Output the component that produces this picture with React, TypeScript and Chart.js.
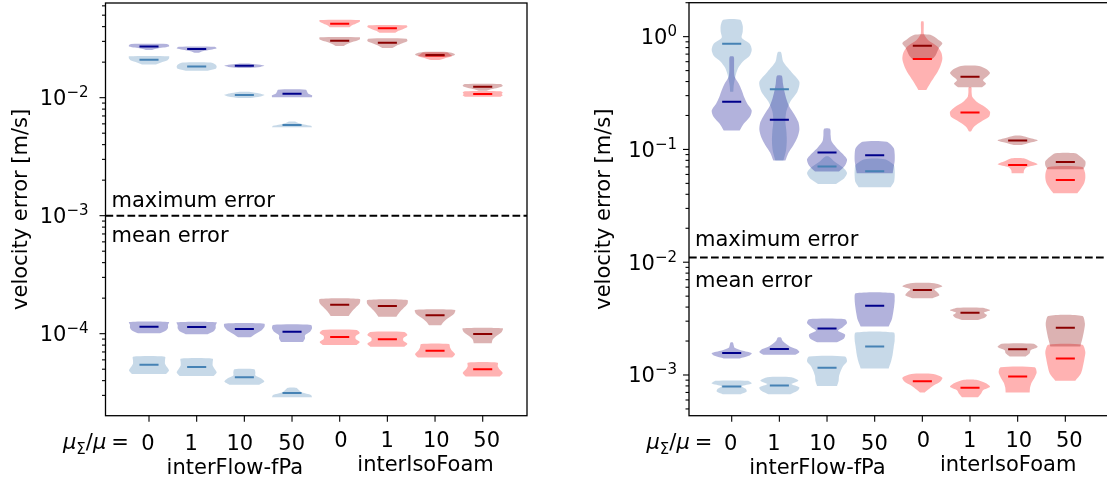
import React, { useEffect, useRef } from 'react';
import { Chart, registerables } from 'chart.js';

Chart.register(...registerables);

// Each violin: [lowest value, highest value, median, relative widths from lowest to highest]
type Violin = [number, number, number, number[]];

const positions = [1, 2, 3, 4, 5, 6, 7, 8];
const muRatioLabels = ['0', '1', '10', '50', '0', '1', '10', '50'];
const solverLabels = ['interFlow-fPa', 'interIsoFoam'];
const solverLabelPositions = [2.8, 6.8];
const yAxisTitle = 'velocity error [m/s]';
const sectionLabels = ['maximum error', 'mean error'];

// ---------- LEFT PANEL ----------
const leftMaxFpaDark: Violin[] = [
  [0.02535, 0.02851, 0.0272, [0.15, 0.35, 0.7, 1.0, 1.0, 0.9]],
  [0.02404, 0.02704, 0.02588, [0.1, 0.3, 0.7, 1.0, 0.9]],
  [0.01786, 0.01941, 0.01867, [0.3, 0.8, 1.0, 0.8, 0.3]],
  [0.01008, 0.01169, 0.01081, [1.0, 1.0, 0.8, 0.75, 0.7]],
];
const leftMaxFpaLight: Violin[] = [
  [0.0191, 0.0224, 0.021, [0.35, 0.6, 0.9, 1.0, 1.0]],
  [0.01694, 0.01982, 0.01833, [0.55, 0.95, 1.0, 0.95, 0.7]],
  [0.00994, 0.01117, 0.01054, [0.3, 0.8, 1.0, 0.75, 0.3]],
  [0.00561, 0.00627, 0.00588, [1.0, 0.95, 0.6, 0.3, 0.15]],
];
const leftMaxIsoDark: Violin[] = [
  [0.02743, 0.0325, 0.0304, [0.2, 0.4, 0.7, 1.0, 1.0]],
  [0.02635, 0.03162, 0.02924, [0.25, 0.45, 0.75, 1.0, 0.95]],
  [0.02212, 0.02437, 0.02299, [0.5, 0.9, 1.0, 0.9, 0.6]],
  [0.01146, 0.01305, 0.0124, [0.2, 0.5, 0.85, 1.0, 0.9]],
];
const leftMaxIsoLight: Violin[] = [
  [0.03953, 0.04549, 0.04236, [0.5, 0.6, 0.8, 1.0, 1.0]],
  [0.03556, 0.04111, 0.03873, [0.4, 0.55, 0.8, 1.0, 0.95]],
  [0.02084, 0.02416, 0.02281, [0.2, 0.5, 0.85, 0.75, 0.6]],
  [0.0102, 0.01133, 0.01075, [0.9, 1.0, 0.95, 1.0, 0.9]],
];
const leftMeanFpaDark: Violin[] = [
  [1.007e-4, 1.256e-4, 1.146e-4, [0.55, 0.85, 0.95, 0.95, 1.0]],
  [9.88e-5, 1.25e-4, 1.14e-4, [0.55, 0.85, 0.95, 0.95, 1.0]],
  [9.31e-5, 1.216e-4, 1.096e-4, [0.3, 0.55, 0.85, 1.0, 1.0]],
  [8.51e-5, 1.186e-4, 1.04e-4, [0.55, 0.65, 0.65, 0.9, 1.0, 0.95]],
];
const leftMeanFpaLight: Violin[] = [
  [4.55e-5, 6.38e-5, 5.46e-5, [0.85, 1.0, 0.9, 0.8, 0.8, 0.8]],
  [4.38e-5, 6.14e-5, 5.22e-5, [0.85, 1.0, 0.9, 0.8, 0.8, 0.8]],
  [3.7e-5, 4.99e-5, 4.27e-5, [0.75, 1.0, 0.85, 0.55, 0.55, 0.5]],
  [2.89e-5, 3.48e-5, 3.14e-5, [1.0, 0.95, 0.5, 0.35, 0.2]],
];
const leftMeanIsoDark: Violin[] = [
  [1.41e-4, 1.97e-4, 1.762e-4, [0.45, 0.6, 0.8, 1.0, 1.0]],
  [1.393e-4, 1.932e-4, 1.718e-4, [0.45, 0.6, 0.8, 1.0, 1.0]],
  [1.178e-4, 1.589e-4, 1.432e-4, [0.3, 0.45, 0.7, 0.95, 1.0]],
  [8.3e-5, 1.111e-4, 9.93e-5, [0.45, 0.5, 0.7, 0.95, 1.0]],
];
const leftMeanIsoLight: Violin[] = [
  [8.02e-5, 1.074e-4, 9.38e-5, [0.85, 1.0, 0.8, 0.8, 1.0, 0.85]],
  [7.76e-5, 1.033e-4, 8.97e-5, [0.85, 1.0, 0.8, 0.8, 1.0, 0.85]],
  [6.27e-5, 8.18e-5, 7.18e-5, [0.85, 1.0, 0.85, 0.75, 0.7]],
  [4.33e-5, 5.68e-5, 4.99e-5, [0.85, 1.0, 0.85, 0.75, 0.75]],
];

// ---------- RIGHT PANEL ----------
const rightMaxFpaDark: Violin[] = [
  [0.147, 0.665, 0.265, [0.4, 0.6, 0.9, 1.0, 0.78, 0.62, 0.5, 0.35, 0.15, 0.12, 0.12, 0.1]],
  [0.0796, 0.449, 0.183, [0.3, 0.45, 0.7, 0.9, 1.0, 0.95, 0.75, 0.5, 0.35, 0.25, 0.18, 0.12]],
  [0.0636, 0.152, 0.0937, [0.6, 0.9, 1.0, 0.75, 0.45, 0.22, 0.18, 0.15]],
  [0.0615, 0.117, 0.0888, [0.9, 0.95, 1.0, 1.0, 0.95, 0.6]],
];
const rightMaxFpaLight: Violin[] = [
  [0.325, 1.41, 0.867, [0.08, 0.1, 0.15, 0.22, 0.33, 0.55, 0.9, 1.0, 0.9, 0.5, 0.55, 0.55, 0.42]],
  [0.0796, 0.727, 0.341, [0.2, 0.33, 0.37, 0.35, 0.3, 0.35, 0.55, 0.9, 1.0, 0.6, 0.2, 0.08]],
  [0.0494, 0.0863, 0.0704, [0.45, 0.85, 1.0, 0.8, 0.4, 0.1]],
  [0.0462, 0.0818, 0.0641, [0.8, 0.97, 1.0, 1.0, 0.95, 0.5]],
];
const rightMaxIsoDark: Violin[] = [
  [0.621, 1.04, 0.832, [0.45, 0.65, 0.75, 0.85, 1.0, 0.75, 0.4]],
  [0.356, 0.55, 0.442, [0.6, 0.8, 0.65, 0.85, 1.0, 0.85, 0.45]],
  [0.1096, 0.132, 0.1197, [0.2, 0.6, 1.0, 0.6, 0.2]],
  [0.0667, 0.0925, 0.0775, [0.9, 1.0, 1.0, 0.8, 0.5]],
];
const rightMaxIsoLight: Violin[] = [
  [0.337, 1.36, 0.634, [0.2, 0.38, 0.58, 0.78, 0.92, 1.0, 0.95, 0.75, 0.3, 0.08, 0.07, 0.06]],
  [0.144, 0.356, 0.212, [0.05, 0.2, 0.55, 0.95, 1.0, 0.75, 0.35, 0.12, 0.08, 0.07]],
  [0.0615, 0.0835, 0.0729, [0.3, 0.32, 0.45, 1.0, 0.65, 0.3]],
  [0.0409, 0.07, 0.0537, [0.6, 0.8, 0.95, 1.0, 0.98, 0.85]],
];
const rightMeanFpaDark: Violin[] = [
  [1.4e-3, 1.94e-3, 1.57e-3, [0.4, 0.85, 1.0, 0.5, 0.15, 0.1, 0.06]],
  [1.51e-3, 2.15e-3, 1.7e-3, [0.8, 1.0, 0.85, 0.5, 0.3, 0.15, 0.08]],
  [1.95e-3, 3.12e-3, 2.58e-3, [0.5, 0.85, 0.9, 0.55, 0.8, 1.0, 0.9]],
  [2.69e-3, 5.31e-3, 4.12e-3, [0.7, 0.85, 0.92, 0.97, 1.0, 0.95]],
];
const rightMeanFpaLight: Violin[] = [
  [6.76e-4, 8.87e-4, 7.89e-4, [0.45, 0.75, 0.7, 0.5, 1.0, 0.8]],
  [6.76e-4, 9.55e-4, 8.05e-4, [0.55, 0.9, 1.0, 0.6, 0.95, 0.6]],
  [8.0e-4, 1.46e-3, 1.16e-3, [0.5, 0.58, 0.6, 0.68, 0.8, 1.0, 0.9]],
  [1.14e-3, 2.38e-3, 1.79e-3, [0.7, 0.82, 0.9, 0.95, 1.0, 0.95]],
];
const rightMeanIsoDark: Violin[] = [
  [4.8e-3, 6.52e-3, 5.68e-3, [0.5, 0.85, 0.75, 0.6, 1.0, 0.6]],
  [3.08e-3, 3.94e-3, 3.56e-3, [0.4, 0.75, 0.85, 0.7, 1.0, 0.6]],
  [1.46e-3, 1.89e-3, 1.69e-3, [0.4, 0.6, 0.65, 1.0, 0.8]],
  [1.79e-3, 3.34e-3, 2.62e-3, [0.75, 0.85, 0.93, 0.98, 0.85]],
];
const rightMeanIsoLight: Violin[] = [
  [6.99e-4, 1.02e-3, 8.81e-4, [0.12, 0.35, 0.6, 0.9, 1.0, 0.55]],
  [6.36e-4, 9.06e-4, 7.69e-4, [0.4, 0.55, 0.65, 1.0, 0.8, 0.3]],
  [6.99e-4, 1.17e-3, 9.68e-4, [0.6, 0.62, 0.7, 0.85, 0.95, 0.85]],
  [8.91e-4, 1.85e-3, 1.4e-3, [0.5, 0.78, 0.88, 0.95, 1.0, 0.85]],
];

// axis limits / separators
const leftYRange = [2.018e-5, 0.06343];
const rightYRange = [4.355e-4, 2.0];
const leftXRange = [0.0875, 8.929];
const rightXRange = [0.104, 8.929];
const leftSeparator = 1e-3;
const rightSeparator = 0.011;
const leftNoteValues = [1.19e-3, 5.93e-4];
const rightNoteValues = [0.01395, 6.03e-3];

// ---------- styling ----------
const FONT = '"DejaVu Sans"';
const HALF_WIDTH = 0.42;
const MEDIAN_HALF = 0.2;
const COLORS = {
  fpaDark: '#00008b',
  fpaLight: '#4682b4',
  isoDark: '#8b0000',
  isoLight: '#ff0000',
};
const FILLS = {
  fpaDark: 'rgba(0,0,139,0.3)',
  fpaLight: 'rgba(70,130,180,0.3)',
  isoDark: 'rgba(139,0,0,0.3)',
  isoLight: 'rgba(255,0,0,0.3)',
};
const tickLabelOffsets = [-1, -5.5, -4.5, -0.3, 1.2, -0.3, 1.2, 4];

type SeriesSet = {
  fpaDark: Violin[]; fpaLight: Violin[]; isoDark: Violin[]; isoLight: Violin[];
};

type PanelCfg = {
  canvasLeft: number; canvasWidth: number;
  pad: { left: number; right: number; top: number; bottom: number };
  xRange: number[]; yRange: number[]; separator: number; notes: number[];
  labelGap: number; max: SeriesSet; mean: SeriesSet;
};

const panels: PanelCfg[] = [
  {
    canvasLeft: 0, canvasWidth: 553,
    pad: { left: 105.5, right: 26, top: 3, bottom: 66.3 },
    xRange: leftXRange, yRange: leftYRange, separator: leftSeparator, notes: leftNoteValues,
    labelGap: 17,
    max: { fpaDark: leftMaxFpaDark, fpaLight: leftMaxFpaLight, isoDark: leftMaxIsoDark, isoLight: leftMaxIsoLight },
    mean: { fpaDark: leftMeanFpaDark, fpaLight: leftMeanFpaLight, isoDark: leftMeanIsoDark, isoLight: leftMeanIsoLight },
  },
  {
    canvasLeft: 553, canvasWidth: 560,
    pad: { left: 136, right: 3.4, top: 2.7, bottom: 66.3 },
    xRange: rightXRange, yRange: rightYRange, separator: rightSeparator, notes: rightNoteValues,
    labelGap: 12,
    max: { fpaDark: rightMaxFpaDark, fpaLight: rightMaxFpaLight, isoDark: rightMaxIsoDark, isoLight: rightMaxIsoLight },
    mean: { fpaDark: rightMeanFpaDark, fpaLight: rightMeanFpaLight, isoDark: rightMeanIsoDark, isoLight: rightMeanIsoLight },
  },
];

function violinBody(v: Violin, pos: number, fill: string) {
  const [lo, hi, , w] = v;
  const l0 = Math.log10(lo);
  const l1 = Math.log10(hi);
  const n = w.length;
  const rightSide = w.map((wi, i) => ({
    x: pos + HALF_WIDTH * wi,
    y: Math.pow(10, l0 + ((l1 - l0) * i) / (n - 1)),
  }));
  const leftSide = rightSide.slice().reverse().map((p) => ({ x: 2 * pos - p.x, y: p.y }));
  return {
    type: 'line',
    data: [...rightSide, ...leftSide],
    fill: 'shape',
    backgroundColor: fill,
    borderColor: 'rgba(0,0,0,0)',
    borderWidth: 0,
    pointRadius: 0,
    tension: 0.25,
  };
}

function medianLine(v: Violin, pos: number, color: string) {
  return {
    type: 'line',
    data: [
      { x: pos - MEDIAN_HALF, y: v[2] },
      { x: pos + MEDIAN_HALF, y: v[2] },
    ],
    borderColor: color,
    borderWidth: 2,
    pointRadius: 0,
    fill: false,
  };
}

function buildDatasets(p: PanelCfg) {
  const medians: any[] = [];
  const darkBodies: any[] = [];
  const lightBodies: any[] = [];
  for (const set of [p.max, p.mean]) {
    set.fpaDark.forEach((v, i) => {
      darkBodies.push(violinBody(v, positions[i], FILLS.fpaDark));
      medians.push(medianLine(v, positions[i], COLORS.fpaDark));
    });
    set.fpaLight.forEach((v, i) => {
      lightBodies.push(violinBody(v, positions[i], FILLS.fpaLight));
      medians.push(medianLine(v, positions[i], COLORS.fpaLight));
    });
    set.isoDark.forEach((v, i) => {
      darkBodies.push(violinBody(v, positions[i + 4], FILLS.isoDark));
      medians.push(medianLine(v, positions[i + 4], COLORS.isoDark));
    });
    set.isoLight.forEach((v, i) => {
      lightBodies.push(violinBody(v, positions[i + 4], FILLS.isoLight));
      medians.push(medianLine(v, positions[i + 4], COLORS.isoLight));
    });
  }
  const separator = {
    type: 'line',
    data: [
      { x: p.xRange[0], y: p.separator },
      { x: p.xRange[1], y: p.separator },
    ],
    borderColor: '#000',
    borderWidth: 2,
    borderDash: [7.7, 3.3],
    pointRadius: 0,
    fill: false,
  };
  // first dataset is drawn last (on top)
  return [separator, ...medians, ...darkBodies, ...lightBodies];
}

function axesPlugin(p: PanelCfg) {
  return {
    id: 'mplAxes',
    afterDraw(chart: any) {
      const { ctx, chartArea: a, scales } = chart;
      const xs = scales.x;
      const ys = scales.y;
      ctx.save();
      ctx.strokeStyle = '#000';
      ctx.fillStyle = '#000';

      // frame
      ctx.lineWidth = 1.3;
      ctx.strokeRect(a.left, a.top, a.right - a.left, a.bottom - a.top);

      // y ticks
      ctx.lineWidth = 1.1;
      const e0 = Math.floor(Math.log10(p.yRange[0]));
      const e1 = Math.ceil(Math.log10(p.yRange[1]));
      for (let e = e0; e <= e1; e++) {
        for (let k = 1; k <= 9; k++) {
          const v = k * Math.pow(10, e);
          if (v < p.yRange[0] || v > p.yRange[1]) continue;
          const y = ys.getPixelForValue(v);
          const len = k === 1 ? 6 : 3.5;
          ctx.beginPath();
          ctx.moveTo(a.left - len, y);
          ctx.lineTo(a.left, y);
          ctx.stroke();
          if (k === 1) {
            const base = '10';
            const exp = String(e).replace('-', '\u2212');
            ctx.font = `21px ${FONT}`;
            const w1 = ctx.measureText(base).width;
            ctx.font = `15px ${FONT}`;
            const w2 = ctx.measureText(exp).width;
            const right = a.left - p.labelGap;
            ctx.textAlign = 'left';
            ctx.textBaseline = 'alphabetic';
            ctx.font = `21px ${FONT}`;
            ctx.fillText(base, right - w1 - w2, y + 7.5);
            ctx.font = `15px ${FONT}`;
            ctx.fillText(exp, right - w2, y - 0.5);
          }
        }
      }

      // x ticks + labels
      ctx.font = `21px ${FONT}`;
      ctx.textAlign = 'center';
      ctx.textBaseline = 'alphabetic';
      positions.forEach((pos, i) => {
        const x = xs.getPixelForValue(pos);
        ctx.beginPath();
        ctx.moveTo(x, a.bottom);
        ctx.lineTo(x, a.bottom + 6);
        ctx.stroke();
        const yb = a.bottom + (i < 4 ? 33.8 : 31.3);
        ctx.fillText(muRatioLabels[i], x + tickLabelOffsets[i], yb);
      });
      solverLabels.forEach((lab, i) => {
        const x = xs.getPixelForValue(solverLabelPositions[i]);
        ctx.fillText(lab, x, a.bottom + (i === 0 ? 57.8 : 54.8));
      });

      // mu_Sigma / mu = label
      let cx = a.left - 42.5;
      const by = a.bottom + 33.3;
      ctx.textAlign = 'left';
      const seg = (t: string, font: string, dy: number) => {
        ctx.font = font;
        ctx.fillText(t, cx, by + dy);
        cx += ctx.measureText(t).width;
      };
      seg('\u03bc', `italic 21px ${FONT}`, 0);
      seg('\u03a3', `15px ${FONT}`, 4.5);
      seg('/', `21px ${FONT}`, 0);
      seg('\u03bc', `italic 21px ${FONT}`, 0);
      cx += 5;
      seg('=', `21px ${FONT}`, 0);

      // section labels
      ctx.font = `21px ${FONT}`;
      ctx.textAlign = 'left';
      sectionLabels.forEach((lab, i) => {
        ctx.fillText(lab, a.left + 6, ys.getPixelForValue(p.notes[i]));
      });

      // y axis title
      ctx.save();
      ctx.translate(a.left - 79, (a.top + a.bottom) / 2);
      ctx.rotate(-Math.PI / 2);
      ctx.textAlign = 'center';
      ctx.fillText(yAxisTitle, 0, 0);
      ctx.restore();

      ctx.restore();
    },
  };
}

function Panel({ cfg }: { cfg: PanelCfg }) {
  const ref = useRef<HTMLCanvasElement | null>(null);
  useEffect(() => {
    const chart = new Chart(ref.current as HTMLCanvasElement, {
      type: 'line',
      data: { datasets: buildDatasets(cfg) as any },
      options: {
        animation: false,
        responsive: false,
        devicePixelRatio: 1,
        events: [],
        layout: { padding: cfg.pad },
        plugins: { legend: { display: false }, tooltip: { enabled: false } },
        scales: {
          x: { type: 'linear', min: cfg.xRange[0], max: cfg.xRange[1], display: false },
          y: { type: 'logarithmic', min: cfg.yRange[0], max: cfg.yRange[1], display: false },
        },
      },
      plugins: [axesPlugin(cfg)],
    } as any);
    return () => chart.destroy();
  }, [cfg]);
  return (
    <canvas
      ref={ref}
      width={cfg.canvasWidth}
      height={482}
      style={{ position: 'absolute', left: cfg.canvasLeft, top: 0, width: cfg.canvasWidth, height: 482 }}
    />
  );
}

export default function App() {
  return (
    <div
      style={{
        position: 'fixed', left: 0, top: 0, width: 1107, height: 482,
        overflow: 'hidden', background: '#fff',
      }}
    >
      {panels.map((p, i) => (
        <Panel key={i} cfg={p} />
      ))}
    </div>
  );
}
